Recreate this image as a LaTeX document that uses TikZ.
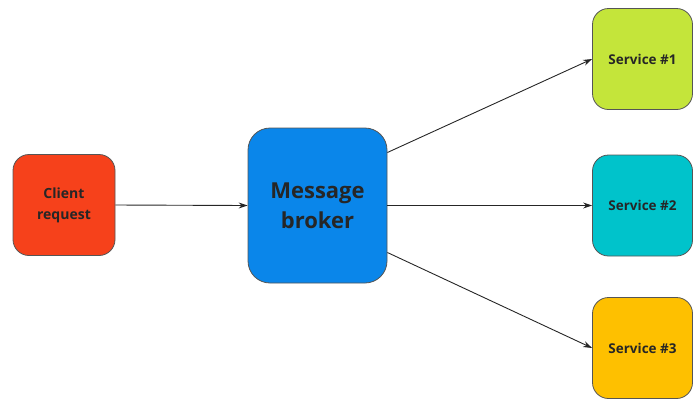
\documentclass[tikz,border=0pt]{standalone}
\usepackage{fontspec}
\setmainfont{Open Sans}
\usetikzlibrary{arrows.meta}
\definecolor{clientred}{HTML}{F6411B}
\definecolor{brokerblue}{HTML}{0A86EA}
\definecolor{svcgreen}{HTML}{C4E53A}
\definecolor{svcteal}{HTML}{00C3CB}
\definecolor{svcamber}{HTML}{FEC000}
\definecolor{edgegray}{HTML}{555555}
\tikzset{
  box/.style={draw=edgegray, line width=0.8pt, rounded corners=16pt, align=center,
    font=\bfseries, text=black!85, inner sep=0pt},
  smallbox/.style={box, minimum width=100pt, minimum height=101pt},
  svctext/.style={font=\bfseries\fontsize{13.5}{16}\selectfont},
  link/.style={draw=black!85, line width=0.9pt, -{Stealth[length=9pt,width=6pt]}}
}
\begin{document}
\begin{tikzpicture}[x=1pt,y=-1pt]
  \useasboundingbox (0,0) rectangle (698,400);
  \node[smallbox, fill=clientred, font=\bfseries\fontsize{14}{21}\selectfont,
        minimum width=102pt] (client) at (64,205) {Client\\request};
  \node[box, fill=brokerblue, rounded corners=22pt, minimum width=139pt, minimum height=155pt,
        font=\bfseries\fontsize{22}{30}\selectfont] (broker) at (317.5,205.5) {Message\\broker};
  \node[smallbox, fill=svcgreen, svctext] (s1) at (642.5,59) {Service \#1};
  \node[smallbox, fill=svcteal, svctext] (s2) at (642.5,205.5) {Service \#2};
  \node[smallbox, fill=svcamber, svctext] (s3) at (642.5,348) {Service \#3};
  \draw[link] (client.east) -- (broker.west);
  \draw[link] ([yshift=53pt]broker.east) -- (s1.west);
  \draw[link] (broker.east) -- (s2.west);
  \draw[link] ([yshift=-47pt]broker.east) -- (s3.west);
\end{tikzpicture}
\end{document}
